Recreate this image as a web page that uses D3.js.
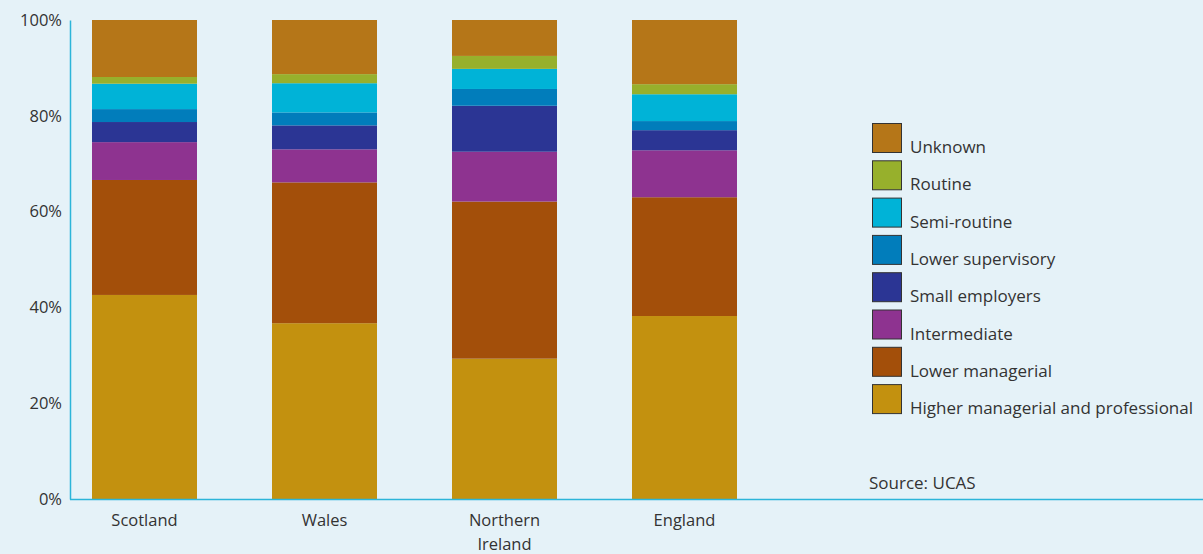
<!DOCTYPE html>
<html>
<head>
<meta charset="utf-8">
<script src="https://cdn.jsdelivr.net/npm/d3@7"></script>
<style>
  html, body { margin: 0; padding: 0; background: #e5f2f8; }
  svg { display: block; }
  text { font-family: "Open Sans", "Noto Sans", sans-serif; fill: #333; }
</style>
</head>
<body>
<svg id="chart" width="1203" height="554"></svg>
<script>
// Data
const countries = ["Scotland", "Wales", "Northern Ireland", "England"];
const countryLines = [["Scotland"], ["Wales"], ["Northern", "Ireland"], ["England"]];
// stack order bottom -> top
const groups = ["Higher managerial and professional", "Lower managerial", "Intermediate",
  "Small employers", "Lower supervisory", "Semi-routine", "Routine", "Unknown"];
const higherManagerial = [42.6, 36.7, 29.3, 38.2];
const lowerManagerial  = [24.0, 29.4, 32.8, 24.8];
const intermediate     = [7.9, 6.9, 10.4, 9.8];
const smallEmployers   = [4.2, 5.0, 9.6, 4.2];
const lowerSupervisory = [2.7, 2.7, 3.5, 1.9];
const semiRoutine      = [5.3, 6.1, 4.2, 5.6];
const routine          = [1.4, 1.9, 2.7, 2.1];
const unknown          = [11.9, 11.3, 7.5, 13.4];
const seriesValues = [higherManagerial, lowerManagerial, intermediate, smallEmployers,
  lowerSupervisory, semiRoutine, routine, unknown];
const colors = ["#c3910f", "#a34f0a", "#8e3390", "#2b3594", "#017dbb", "#00b3d7", "#97b02c", "#b57618"];
const yTicks = [0, 20, 40, 60, 80, 100];
const sourceText = "Source: UCAS";

const svg = d3.select("#chart");
const axisColor = "#2cb5d9";

const x = d3.scaleBand().domain(countries).range([54.5, 774.5])
  .paddingInner(75 / 180).paddingOuter(37.5 / 180);
const y = d3.scaleLinear().domain([0, 100]).range([499, 20]);

const table = countries.map((c, i) => {
  const row = { country: c };
  groups.forEach((g, j) => row[g] = seriesValues[j][i]);
  return row;
});
const stacked = d3.stack().keys(groups)(table);
const color = d3.scaleOrdinal().domain(groups).range(colors);

svg.append("g").selectAll("g").data(stacked).join("g")
  .attr("fill", d => color(d.key))
  .selectAll("rect").data(d => d).join("rect")
  .attr("x", d => x(d.data.country))
  .attr("width", x.bandwidth())
  .attr("y", d => y(d[1]))
  .attr("height", d => y(d[0]) - y(d[1]));

// y axis
const yAxis = svg.append("g").attr("transform", "translate(70,0)")
  .call(d3.axisLeft(y).tickValues(yTicks).tickFormat(d => d + "%").tickSize(0).tickPadding(8));
yAxis.select(".domain").attr("stroke", axisColor).attr("stroke-width", 1.5);
yAxis.selectAll("text").style("font-size", "16.5px").attr("fill", "#333")
  .style("font-family", '"Open Sans", sans-serif');

// x axis line
svg.append("line").attr("x1", 70).attr("x2", 1203).attr("y1", 499.5).attr("y2", 499.5)
  .attr("stroke", axisColor).attr("stroke-width", 1.5);

// x labels
countries.forEach((c, i) => {
  const t = svg.append("text").attr("text-anchor", "middle")
    .attr("x", x(c) + x.bandwidth() / 2).attr("y", 526)
    .style("font-size", "16.5px");
  countryLines[i].forEach((ln, k) => {
    t.append("tspan").attr("x", x(c) + x.bandwidth() / 2).attr("dy", k === 0 ? 0 : 24).text(ln);
  });
});

// legend (top -> bottom: Unknown ... Higher)
const legendItems = groups.slice().reverse();
const lg = svg.append("g");
legendItems.forEach((g, i) => {
  const yy = 123.5 + i * 37.3;
  lg.append("rect").attr("x", 872.5).attr("y", yy).attr("width", 29).attr("height", 29)
    .attr("fill", color(g)).attr("stroke", "#333").attr("stroke-width", 1);
  lg.append("text").attr("x", 910).attr("y", yy + 29.5).style("font-size", "17px").text(g);
});

svg.append("text").attr("x", 869).attr("y", 489).style("font-size", "17px").text(sourceText);
</script>
</body>
</html>
